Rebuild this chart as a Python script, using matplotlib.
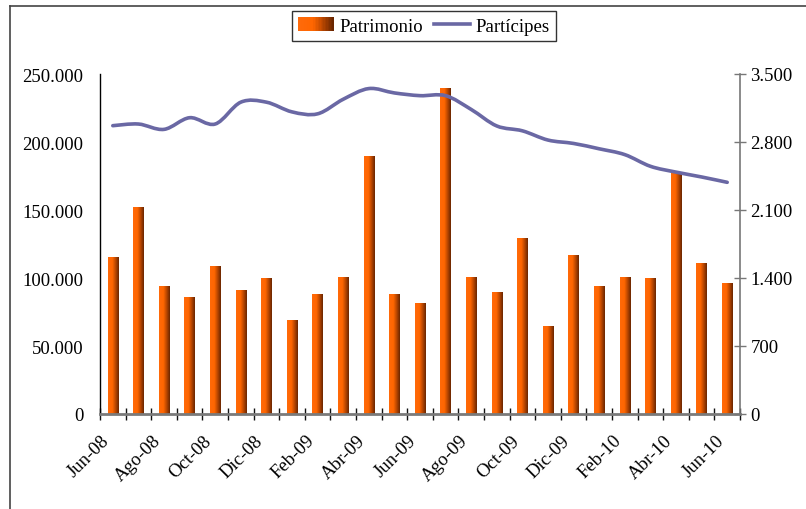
import matplotlib
matplotlib.use("Agg")
import matplotlib.pyplot as plt
import matplotlib.transforms as mtransforms
import numpy as np
from matplotlib.colors import LinearSegmentedColormap
from matplotlib.legend_handler import HandlerBase
from matplotlib.patches import Rectangle, Patch
from matplotlib.path import Path
from matplotlib.patches import PathPatch
from matplotlib.lines import Line2D
from matplotlib.ticker import FuncFormatter, MultipleLocator, FixedLocator

# Monthly data, Jun-08 .. Jun-10
months = ["Jun-08", "Jul-08", "Ago-08", "Sep-08", "Oct-08", "Nov-08", "Dic-08",
          "Ene-09", "Feb-09", "Mar-09", "Abr-09", "May-09", "Jun-09", "Jul-09",
          "Ago-09", "Sep-09", "Oct-09", "Nov-09", "Dic-09", "Ene-10", "Feb-10",
          "Mar-10", "Abr-10", "May-10", "Jun-10"]
patrimonio = [115000, 151500, 94000, 86000, 108800, 90500, 100000, 69000, 88200,
              100700, 189000, 88200, 81000, 239700, 100700, 89000, 128700, 64700,
              116900, 94100, 100700, 99300, 176500, 111000, 96300]
participes = [2968, 2985, 2930, 3050, 2985, 3210, 3210, 3110, 3090, 3240, 3350,
              3305, 3277, 3277, 3135, 2965, 2915, 2820, 2785, 2730, 2670, 2550,
              2490, 2440, 2385]

plt.rcParams['font.family'] = ['Liberation Serif', 'DejaVu Serif']
plt.rcParams['font.size'] = 13.5

bar_cmap = LinearSegmentedColormap.from_list(
    "grad", [(0, "#ff6a0a"), (0.4, "#ff6600"), (0.7, "#b84600"), (1.0, "#6a2600")])
line_color = "#6a68a4"

fig = plt.figure(figsize=(8.06, 5.1), dpi=100)
ax = fig.add_axes([100/806, 95/510, 640/806, 340/510])
ax2 = ax.twinx()

x = np.arange(len(months))
bars = ax.bar(x, patrimonio, width=0.4, facecolor="none", edgecolor="none")
grad = np.linspace(0, 1, 64).reshape(1, -1)
for b in bars:
    ax.imshow(grad, cmap=bar_cmap, aspect="auto", interpolation="bilinear",
              extent=(b.get_x(), b.get_x() + b.get_width(), 0, b.get_height()),
              zorder=2)

ax.set_xlim(-0.5, len(months) - 0.5)
ax.set_ylim(0, 250000)
ax2.set_ylim(0, 3500)

# smoothed line (bezier through the points, like the spreadsheet's smoothing)
pts = np.column_stack([x, participes]).astype(float)
verts = [tuple(pts[0])]
codes = [Path.MOVETO]
for i in range(len(pts) - 1):
    p0 = pts[max(i - 1, 0)]
    p1 = pts[i]
    p2 = pts[i + 1]
    p3 = pts[min(i + 2, len(pts) - 1)]
    c1 = p1 + (p2 - p0) / 6.0
    c2 = p2 - (p3 - p1) / 6.0
    verts += [tuple(c1), tuple(c2), tuple(p2)]
    codes += [Path.CURVE4] * 3
ax2.add_patch(PathPatch(Path(verts, codes), facecolor="none", edgecolor=line_color,
                        lw=2.6, capstyle="round", joinstyle="round", zorder=3))

fmt = FuncFormatter(lambda v, p: f"{v:,.0f}".replace(",", "."))
ax.yaxis.set_major_locator(MultipleLocator(50000))
ax.yaxis.set_major_formatter(fmt)
ax2.yaxis.set_major_locator(MultipleLocator(700))
ax2.yaxis.set_major_formatter(fmt)

ax.tick_params(axis="y", length=0, pad=12)
ax2.tick_params(axis="y", direction="inout", length=9, width=1, color="#777777",
                pad=3)

ax.set_xticks(x[::2])
ax.set_xticklabels(months[::2], rotation=45, ha="right", va="center",
                   rotation_mode="anchor")
ax.xaxis.set_minor_locator(FixedLocator(np.arange(-0.5, len(months), 1.0)))
ax.tick_params(axis="x", which="major", length=0, pad=17)
ax.tick_params(axis="x", which="minor", direction="inout", length=9, width=1,
               color="#111111")
shift = mtransforms.ScaledTranslation(-6/100, 0, fig.dpi_scale_trans)
for lab in ax.get_xticklabels():
    lab.set_transform(lab.get_transform() + shift)

for a in (ax, ax2):
    a.spines["top"].set_visible(False)
ax.spines["left"].set_color("black")
ax.spines["left"].set_linewidth(1.0)
ax.spines["right"].set_visible(False)
ax2.spines["left"].set_visible(False)
ax2.spines["bottom"].set_visible(False)
ax2.spines["right"].set_color("#777777")
ax2.spines["right"].set_linewidth(1.2)
ax.spines["bottom"].set_color("#7a7a7a")
ax.spines["bottom"].set_linewidth(2.0)


class GradHandler(HandlerBase):
    def create_artists(self, legend, orig, xd, yd, w, h, fs, trans):
        n = 24
        arts = []
        for k in range(n):
            arts.append(Rectangle((xd + w * k / n, yd), w / n * 1.1, h,
                                  facecolor=bar_cmap(k / (n - 1)), edgecolor="none",
                                  transform=trans))
        return arts


handles = [Patch(facecolor="#ff6600"), Line2D([], [], color=line_color, lw=2.6)]
leg = fig.legend(handles, ["Patrimonio", "Partícipes"], loc="center",
                 bbox_to_anchor=(424/806, 1 - 27/510), ncol=2, frameon=True,
                 fancybox=False, edgecolor="black", handlelength=1.9,
                 handletextpad=0.3, columnspacing=0.6, borderpad=0.35,
                 handler_map={Patch: GradHandler()})
leg.get_frame().set_linewidth(1.0)

# outer frame of the chart object
fig.add_artist(Line2D([10/806, 10/806], [0, 1 - 7/510], color="#444444", lw=1.2))
fig.add_artist(Line2D([10/806, 1], [1 - 7/510, 1 - 7/510], color="#444444", lw=1.2))

fig.savefig("out.png", dpi=100)
